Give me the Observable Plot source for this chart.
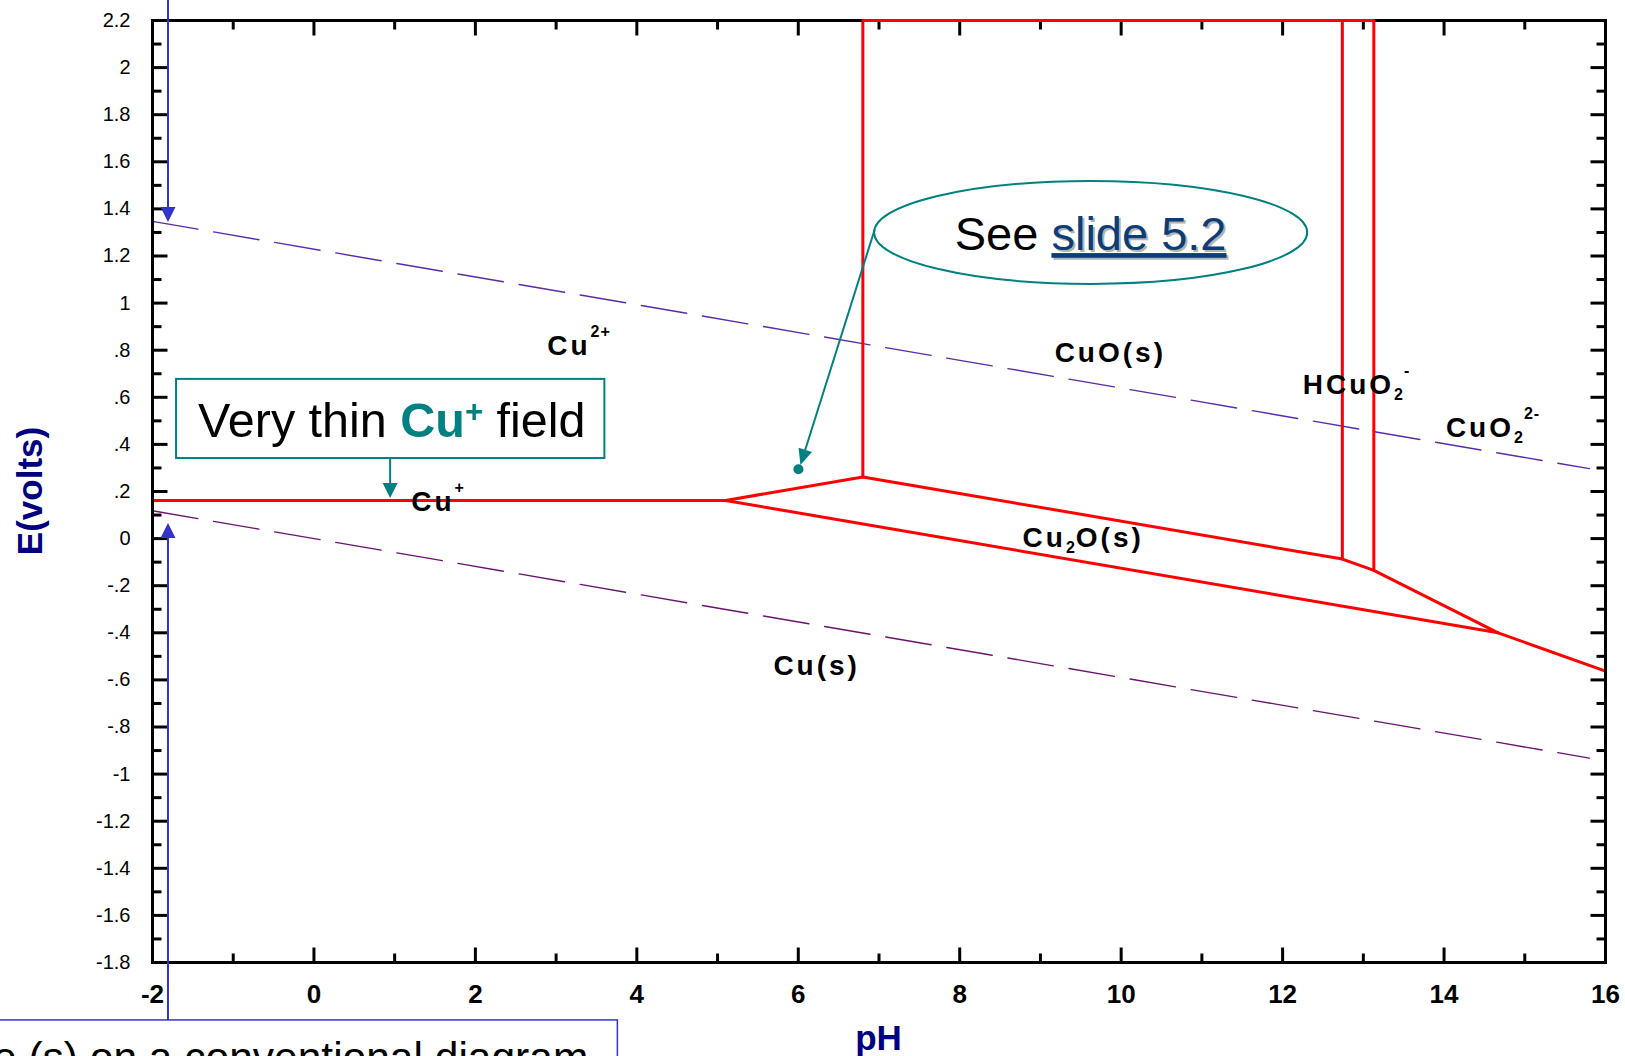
<!DOCTYPE html>
<html><head><meta charset="utf-8">
<script src="https://cdn.jsdelivr.net/npm/d3@7"></script>
<script src="https://cdn.jsdelivr.net/npm/@observablehq/plot@0.6"></script>
<style>
html,body{margin:0;padding:0;background:#fff;overflow:hidden}
svg{display:block}
</style></head><body><div id="chart"></div>
<script>
// ---------- data ----------
const xTicksMajor = [-2, 0, 2, 4, 6, 8, 10, 12, 14, 16];
const xTickLabels = ["-2", "0", "2", "4", "6", "8", "10", "12", "14", "16"];
const xTicksMinor = [-1, 1, 3, 5, 7, 9, 11, 13, 15];
const yTicksMajor = [-1.8, -1.6, -1.4, -1.2, -1, -0.8, -0.6, -0.4, -0.2, 0, 0.2, 0.4, 0.6, 0.8, 1, 1.2, 1.4, 1.6, 1.8, 2, 2.2];
const yTickLabels = ["-1.8", "-1.6", "-1.4", "-1.2", "-1", "-.8", "-.6", "-.4", "-.2", "0", ".2", ".4", ".6", ".8", "1", "1.2", "1.4", "1.6", "1.8", "2", "2.2"];
const yTicksMinor = [-1.7, -1.5, -1.3, -1.1, -0.9, -0.7, -0.5, -0.3, -0.1, 0.1, 0.3, 0.5, 0.7, 0.9, 1.1, 1.3, 1.5, 1.7, 1.9, 2.1];

// water stability lines (dashed)
const oxygenPH = [-2, 15.8];
const oxygenE = [1.347, 0.297];
const hydrogenPH = [-2, 15.8];
const hydrogenE = [0.118, -0.932];

// phase boundaries (red), grouped by segment id
const boundaryId = ["main", "main", "main", "main", "main", "main", "main",
                    "v1", "v1", "v2", "v2", "v3", "v3", "cu2o", "cu2o", "top", "top"];
const boundaryPH = [-2, 5.1, 6.8, 12.74, 13.13, 14.67, 16,
                    6.8, 6.8, 12.74, 12.74, 13.13, 13.13, 5.1, 14.67, 6.8, 13.13];
const boundaryE = [0.162, 0.162, 0.262, -0.087, -0.135, -0.40, -0.563,
                   0.262, 2.2, -0.087, 2.2, -0.135, 2.2, 0.162, -0.40, 2.2, 2.2];

// region labels: text parts ("" main, "sub", "sup") and anchor (start, baseline) in data units
const labelParts = [
  [["Cu", ""], ["2+", "sup"]],
  [["Cu", ""], ["+", "sup"]],
  [["CuO(s)", ""]],
  [["HCuO", ""], ["2", "sub"], ["-", "sup"]],
  [["CuO", ""], ["2", "sub"], ["2-", "sup"]],
  [["Cu", ""], ["2", "sub"], ["O(s)", ""]],
  [["Cu(s)", ""]]
];
const labelPH = [2.897, 1.211, 9.182, 12.256, 14.029, 8.785, 5.698];
const labelE = [0.777, 0.115, 0.748, 0.612, 0.429, -0.038, -0.581];

// ---------- chart ----------
const FONT = "Arial, 'Liberation Sans', sans-serif";
const oxygen = oxygenPH.map((x, i) => ({x, y: oxygenE[i]}));
const hydrogen = hydrogenPH.map((x, i) => ({x, y: hydrogenE[i]}));
const boundaries = boundaryPH.map((x, i) => ({id: boundaryId[i], x, y: boundaryE[i]}));
const mainBoundaries = boundaries.filter(d => d.id !== "top");
const topBoundary = boundaries.filter(d => d.id === "top");

const tickShape = {draw(context, l) { context.moveTo(0, 0); context.lineTo(0, -l); }};
const tickOpts = {shape: tickShape, anchor: "start", stroke: "black", strokeWidth: 3, strokeLinecap: "butt"};

const chart = Plot.plot({
  width: 1625, height: 1056,
  marginLeft: 152, marginRight: 20, marginTop: 20, marginBottom: 94,
  x: {domain: [-2, 16], axis: null},
  y: {domain: [-1.8, 2.2], axis: null},
  style: {fontFamily: FONT, background: "white", overflow: "visible"},
  marks: [
    Plot.line(oxygen, {x: "x", y: "y", stroke: "#5a2ca8", strokeWidth: 1.4, strokeDasharray: "46,16"}),
    Plot.line(hydrogen, {x: "x", y: "y", stroke: "#6a1470", strokeWidth: 1.4, strokeDasharray: "46,16"}),
    Plot.line(mainBoundaries, {x: "x", y: "y", z: "id", stroke: "#ff0000", strokeWidth: 3, strokeLinejoin: "miter"}),
    Plot.frame({stroke: "black", strokeWidth: 3}),
    Plot.vector(xTicksMajor, {x: d => d, frameAnchor: "bottom", length: 15, rotate: 0, ...tickOpts}),
    Plot.vector(xTicksMinor, {x: d => d, frameAnchor: "bottom", length: 9, rotate: 0, ...tickOpts}),
    Plot.vector(xTicksMajor, {x: d => d, frameAnchor: "top", length: 15, rotate: 180, ...tickOpts}),
    Plot.vector(xTicksMinor, {x: d => d, frameAnchor: "top", length: 9, rotate: 180, ...tickOpts}),
    Plot.vector(yTicksMajor, {y: d => d, frameAnchor: "left", length: 15, rotate: 90, ...tickOpts}),
    Plot.vector(yTicksMinor, {y: d => d, frameAnchor: "left", length: 9, rotate: 90, ...tickOpts}),
    Plot.vector(yTicksMajor, {y: d => d, frameAnchor: "right", length: 15, rotate: 270, ...tickOpts}),
    Plot.vector(yTicksMinor, {y: d => d, frameAnchor: "right", length: 9, rotate: 270, ...tickOpts}),
    Plot.line(topBoundary, {x: "x", y: "y", stroke: "#ff0000", strokeWidth: 3}),
    Plot.text(xTicksMajor, {x: d => d, text: (d, i) => xTickLabels[i], frameAnchor: "bottom", dy: 40, fontSize: 26, fontWeight: "bold", fill: "black"}),
    Plot.text(yTicksMajor, {y: d => d, text: (d, i) => yTickLabels[i], frameAnchor: "left", dx: -22, textAnchor: "end", fontSize: 20, fill: "black"})
  ]
});
document.getElementById("chart").appendChild(chart);

// ---------- annotations (placed through the chart's scales) ----------
const sx = chart.scale("x"), sy = chart.scale("y");
const X = v => sx.apply(v), Y = v => sy.apply(v);
const svg = d3.select(chart);
const g = svg.append("g").attr("font-family", FONT).attr("text-anchor", "start");

// axis titles
const midY = (Y(2.2) + Y(-1.8)) / 2, midX = (X(-2) + X(16)) / 2;
g.append("text")
  .attr("transform", `translate(${X(-2) - 110},${midY}) rotate(-90)`)
  .attr("text-anchor", "middle").attr("font-size", 35).attr("font-weight", "bold").attr("fill", "#000080")
  .text("E(volts)");
g.append("text")
  .attr("x", midX).attr("y", Y(-1.8) + 88)
  .attr("text-anchor", "middle").attr("font-size", 35).attr("font-weight", "bold").attr("fill", "#000080")
  .text("pH");

// region labels
const subLevel = 6, supLevel = -18;
labelParts.forEach((parts, k) => {
  const t = g.append("text")
    .attr("x", X(labelPH[k])).attr("y", Y(labelE[k]))
    .attr("text-anchor", "start")
    .attr("font-weight", "bold").attr("font-size", 28)
    .attr("letter-spacing", 3).attr("fill", "black");
  let level = 0;
  parts.forEach(([s, kind]) => {
    const target = kind === "sub" ? subLevel : kind === "sup" ? supLevel : 0;
    t.append("tspan").attr("dy", target - level)
      .attr("font-size", kind ? 16 : 28)
      .attr("letter-spacing", kind ? 1 : 3)
      .text(s);
    level = target;
  });
});

function drawArrow(p1, p2, color, width, len, half) {
  const x1 = X(p1[0]), y1 = Y(p1[1]), x2 = X(p2[0]), y2 = Y(p2[1]);
  const L = Math.hypot(x2 - x1, y2 - y1), ux = (x2 - x1) / L, uy = (y2 - y1) / L;
  const bx = x2 - ux * len, by = y2 - uy * len, px = -uy, py = ux;
  g.append("line").attr("x1", x1).attr("y1", y1).attr("x2", bx + ux).attr("y2", by + uy)
    .attr("stroke", color).attr("stroke-width", width);
  g.append("path")
    .attr("d", `M${x2},${y2}L${bx + px * half},${by + py * half}L${bx - px * half},${by - py * half}Z`)
    .attr("fill", color);
}

// "Very thin Cu+ field" box
const teal = "#008080";
const boxPH = [-1.702, 3.604], boxE = [0.676, 0.340];
g.append("rect")
  .attr("x", X(boxPH[0])).attr("y", Y(boxE[0]))
  .attr("width", X(boxPH[1]) - X(boxPH[0])).attr("height", Y(boxE[1]) - Y(boxE[0]))
  .attr("fill", "white").attr("stroke", teal).attr("stroke-width", 2);
const vt = g.append("text").attr("x", X(-1.429)).attr("y", Y(0.429))
  .attr("text-anchor", "start").attr("font-size", 48.5).attr("fill", "black");
vt.append("tspan").text("Very thin ");
vt.append("tspan").attr("font-weight", "bold").attr("fill", teal).text("Cu");
vt.append("tspan").attr("font-weight", "bold").attr("fill", teal).attr("font-size", 31).attr("dy", -15).text("+");
vt.append("tspan").attr("dy", 15).text(" field");
drawArrow([0.95, 0.340], [0.95, 0.17], teal, 2, 15, 7.5);

// "See slide 5.2" callout
const ellC = [9.628, 1.298], ellR = [2.683, 0.2187];
g.append("ellipse")
  .attr("cx", X(ellC[0])).attr("cy", Y(ellC[1]))
  .attr("rx", X(ellC[0] + ellR[0]) - X(ellC[0])).attr("ry", Y(ellC[1] - ellR[1]) - Y(ellC[1]))
  .attr("fill", "white").attr("stroke", teal).attr("stroke-width", 2);
function seeText(dx, dy, shadow) {
  const t = g.append("text").attr("x", X(ellC[0]) + dx).attr("y", Y(1.223) + dy)
    .attr("text-anchor", "middle").attr("font-size", 47);
  t.append("tspan").attr("fill", shadow ? "none" : "black").text("See ");
  t.append("tspan").attr("fill", shadow ? "#b4b4b4" : "#0b3d78")
    .attr("text-decoration", "underline").text("slide 5.2");
}
seeText(2, 2, true);
seeText(0, 0, false);
drawArrow([6.951, 1.308], [6.033, 0.310], teal, 2, 16, 7);
g.append("circle").attr("cx", X(6.008)).attr("cy", Y(0.292)).attr("r", 5).attr("fill", teal);

// blue arrows at pH -1.8 and bottom box
const blue = "#3333cc";
drawArrow([-1.802, 2.285], [-1.802, 1.342], blue, 2, 15, 7.5);
g.append("rect")
  .attr("x", X(-4)).attr("y", Y(-2.046))
  .attr("width", X(3.765) - X(-4)).attr("height", 80)
  .attr("fill", "white").attr("stroke", blue).attr("stroke-width", 1.5);
drawArrow([-1.802, -2.046], [-1.802, 0.064], blue, 2, 15, 7.5);
g.append("text").attr("x", X(3.405)).attr("y", Y(-2.268))
  .attr("text-anchor", "end").attr("font-size", 42.5).attr("fill", "black")
  .text("e (s) on a conventional diagram");
</script></body></html>
